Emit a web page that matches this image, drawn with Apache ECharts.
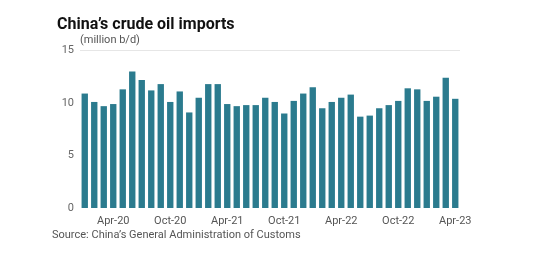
<!DOCTYPE html>
<html>
<head>
<meta charset="utf-8">
<script src="https://cdn.jsdelivr.net/npm/echarts@6/dist/echarts.min.js"></script>
<style>
    html, body { margin: 0; padding: 0; background: #ffffff; }
    #chart { width: 540px; height: 257px; }
</style>
</head>
<body>
<div id="chart"></div>
<script>
    // monthly imports, Jan-20 .. Apr-23 (million b/d)
    const months = [
        'Jan-20','Feb-20','Mar-20','Apr-20','May-20','Jun-20','Jul-20','Aug-20','Sep-20','Oct-20','Nov-20','Dec-20',
        'Jan-21','Feb-21','Mar-21','Apr-21','May-21','Jun-21','Jul-21','Aug-21','Sep-21','Oct-21','Nov-21','Dec-21',
        'Jan-22','Feb-22','Mar-22','Apr-22','May-22','Jun-22','Jul-22','Aug-22','Sep-22','Oct-22','Nov-22','Dec-22',
        'Jan-23','Feb-23','Mar-23','Apr-23'
    ];
    const imports = [
        10.9, 10.1, 9.7, 9.9, 11.3, 13.0, 12.2, 11.2, 11.8, 10.1, 11.1, 9.1,
        10.5, 11.8, 11.8, 9.9, 9.7, 9.8, 9.8, 10.5, 10.1, 9.0, 10.2, 10.9,
        11.5, 9.5, 10.1, 10.5, 10.8, 8.7, 8.8, 9.5, 9.8, 10.2, 11.4, 11.3,
        10.2, 10.6, 12.4, 10.4
    ];
    const yTicks = [0, 5, 10, 15];

    let myChart = echarts.init(document.getElementById('chart'));
    myChart.setOption({
        animation: false,
        textStyle: { fontFamily: 'Roboto, sans-serif' },
        title: {
            text: 'China\u2019s crude oil imports',
            left: 52, top: 12,
            textStyle: { fontSize: 16, fontWeight: 'bold', color: '#111111' }
        },
        graphic: [
            { type: 'text', left: 80, top: 35,
              style: { text: '(million b/d)', fontSize: 11, fill: '#555555', fontFamily: 'Roboto, sans-serif' } },
            { type: 'text', left: 52, top: 230,
              style: { text: 'Source: China\u2019s General Administration of Customs', fontSize: 11, fill: '#555555', fontFamily: 'Roboto, sans-serif' } }
        ],
        grid: { left: 80, right: 80, top: 50.5, bottom: 49 },
        xAxis: {
            type: 'category',
            data: months,
            axisLine: { show: false },
            axisTick: { show: false },
            axisLabel: {
                interval: function (i) { return (i - 3) % 6 === 0; },
                formatter: function (v) { return v; },
                color: '#555555', fontSize: 11, margin: 8
            }
        },
        yAxis: {
            type: 'value',
            min: yTicks[0], max: yTicks[yTicks.length - 1], interval: 5,
            axisLabel: { color: '#666666', fontSize: 11, margin: 6 },
            axisLine: { show: false },
            axisTick: { show: false },
            splitLine: {
                show: true,
                lineStyle: { color: ['transparent', 'transparent', 'transparent', '#e6e6e6'], width: 1 }
            }
        },
        series: [{
            type: 'bar',
            data: imports,
            barCategoryGap: '33%',
            itemStyle: { color: '#2b7b8e' }
        }]
    });
</script>
</body>
</html>
